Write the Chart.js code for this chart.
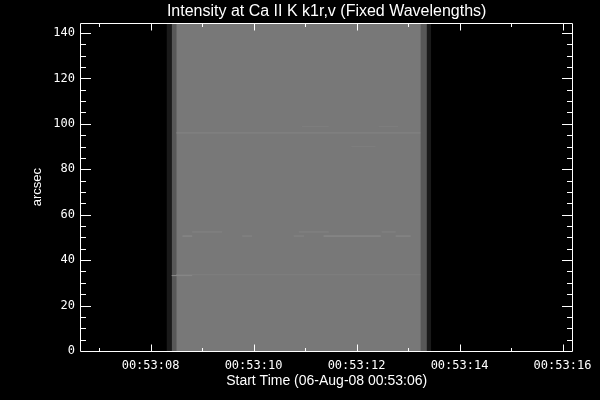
<!DOCTYPE html>
<html lang="en">
<head>
<meta charset="UTF-8">
<title>Intensity at Ca II K k1r,v</title>
<style>
  body { margin: 0; background: #000; }
</style>
</head>
<body>
<canvas id="myChart" width="600" height="400"></canvas>
<script src="https://cdn.jsdelivr.net/npm/chart.js"></script>
<script>
// x = seconds after 00:53:00
const xMin = 6.63, xMax = 16.21;
const yMin = 0, yMax = 144.3;
const xTickValues = [8, 10, 12, 14, 16];
const xTickLabels = ['00:53:08', '00:53:10', '00:53:12', '00:53:14', '00:53:16'];
const yTickValues = [0, 20, 40, 60, 80, 100, 120, 140];

// image columns: start / end time (s) and display level (0-255)
const colStart = [8.31, 8.41, 8.50, 13.24, 13.36];
const colEnd   = [8.41, 8.50, 13.24, 13.36, 13.45];
const colLevel = [26, 88, 120, 88, 26];

// brighter rows inside the image (arcsec, start, end, level)
const streakY     = [96.0, 98.8, 98.8, 90.0, 52.4, 52.4, 52.4, 50.6, 50.6, 50.6, 50.6, 50.6, 33.6, 33.2];
const streakStart = [8.50, 10.94, 12.43, 11.90, 8.81, 10.88, 12.49, 8.62, 9.78, 10.78, 11.36, 12.76, 8.50, 8.41];
const streakEnd   = [13.24, 11.46, 12.81, 12.37, 9.39, 11.46, 12.76, 8.81, 9.97, 10.98, 12.47, 13.05, 13.24, 8.81];
const streakLevel = [133, 125, 125, 125, 132, 132, 132, 140, 134, 134, 142, 138, 126, 138];

// small overlap so neighbouring columns don't leave an anti-aliased seam
const edgeOverlap = 0.02;

function gray(l) {
    return 'rgb(' + l + ',' + l + ',' + l + ')';
}

const datasets = [];
for (let i = 0; i < colStart.length; i++) {
    const end = i < colStart.length - 1 ? colEnd[i] + edgeOverlap : colEnd[i];
    datasets.push({
        data: [{x: colStart[i], y: yMax}, {x: end, y: yMax}],
        showLine: true,
        fill: 'origin',
        backgroundColor: gray(colLevel[i]),
        borderWidth: 0,
        pointRadius: 0,
        order: 100 - i   // left column drawn first
    });
}
for (let i = 0; i < streakY.length; i++) {
    datasets.push({
        data: [{x: streakStart[i], y: streakY[i]}, {x: streakEnd[i], y: streakY[i]}],
        showLine: true,
        fill: false,
        borderColor: gray(streakLevel[i]),
        borderWidth: 1,
        pointRadius: 0,
        order: 0
    });
}

// black background, white box and inward ticks on all four sides
const frame = {
    id: 'frame',
    beforeDraw(chart) {
        const ctx = chart.ctx;
        ctx.save();
        ctx.fillStyle = '#000';
        ctx.fillRect(0, 0, chart.width, chart.height);
        ctx.restore();
    },
    afterDraw(chart) {
        const {ctx, chartArea: a, scales: {x, y}} = chart;
        const L = Math.round(a.left) + 0.5, R = Math.round(a.right) - 0.5;
        const T = Math.round(a.top) + 0.5, B = Math.round(a.bottom) + 0.5;
        ctx.save();
        ctx.strokeStyle = '#fff';
        ctx.lineWidth = 1;
        ctx.beginPath();
        ctx.rect(L, T, R - L, B - T);
        for (let v = 7; v <= 16; v++) {
            const len = v % 2 === 0 ? 7 : 3.5;
            const px = Math.round(x.getPixelForValue(v)) + 0.5;
            ctx.moveTo(px, B); ctx.lineTo(px, B - len);
            ctx.moveTo(px, T); ctx.lineTo(px, T + len);
        }
        for (let v = 5; v <= 140; v += 5) {
            const len = v % 20 === 0 ? 10.5 : 5.5;
            const py = Math.round(y.getPixelForValue(v)) + 0.5;
            ctx.moveTo(L, py); ctx.lineTo(L + len, py);
            ctx.moveTo(R, py); ctx.lineTo(R - len, py);
        }
        ctx.stroke();
        ctx.restore();
    }
};

const ctx = document.getElementById('myChart');
new Chart(ctx, {
    type: 'scatter',
    data: { datasets: datasets },
    plugins: [frame],
    options: {
        responsive: false,
        animation: false,
        events: [],
        layout: { padding: { right: 24 } },
        plugins: {
            legend: { display: false },
            tooltip: { enabled: false },
            title: {
                display: true,
                text: 'Intensity at Ca II K k1r,v (Fixed Wavelengths)',
                color: '#fff',
                fullSize: false,
                font: { family: 'Liberation Sans', size: 16, weight: 'normal' },
                padding: { top: 2, bottom: 2 }
            }
        },
        scales: {
            x: {
                type: 'linear',
                min: xMin,
                max: xMax,
                grid: { display: false, drawTicks: false },
                border: { display: false },
                afterBuildTicks: s => { s.ticks = xTickValues.map(v => ({value: v})); },
                afterFit: s => { s.height = 49; },
                ticks: {
                    color: '#fff',
                    font: { family: 'DejaVu Sans Mono', size: 12 },
                    padding: 8,
                    maxRotation: 0,
                    autoSkip: false,
                    callback: (v, i) => xTickLabels[i]
                },
                title: {
                    display: true,
                    text: 'Start Time (06-Aug-08 00:53:06)',
                    color: '#fff',
                    font: { family: 'Liberation Sans', size: 14 },
                    padding: { top: 0, bottom: 10 }
                }
            },
            y: {
                type: 'linear',
                min: yMin,
                max: yMax,
                grid: { display: false, drawTicks: false },
                border: { display: false },
                afterBuildTicks: s => { s.ticks = yTickValues.map(v => ({value: v})); },
                afterFit: s => { s.width = 80; },
                ticks: {
                    color: '#fff',
                    font: { family: 'DejaVu Sans Mono', size: 12 },
                    padding: 5,
                    autoSkip: false
                },
                title: {
                    display: true,
                    text: 'arcsec',
                    color: '#fff',
                    font: { family: 'Liberation Sans', size: 13 },
                    padding: { top: 30, bottom: 0 }
                }
            }
        }
    }
});
</script>
</body>
</html>
